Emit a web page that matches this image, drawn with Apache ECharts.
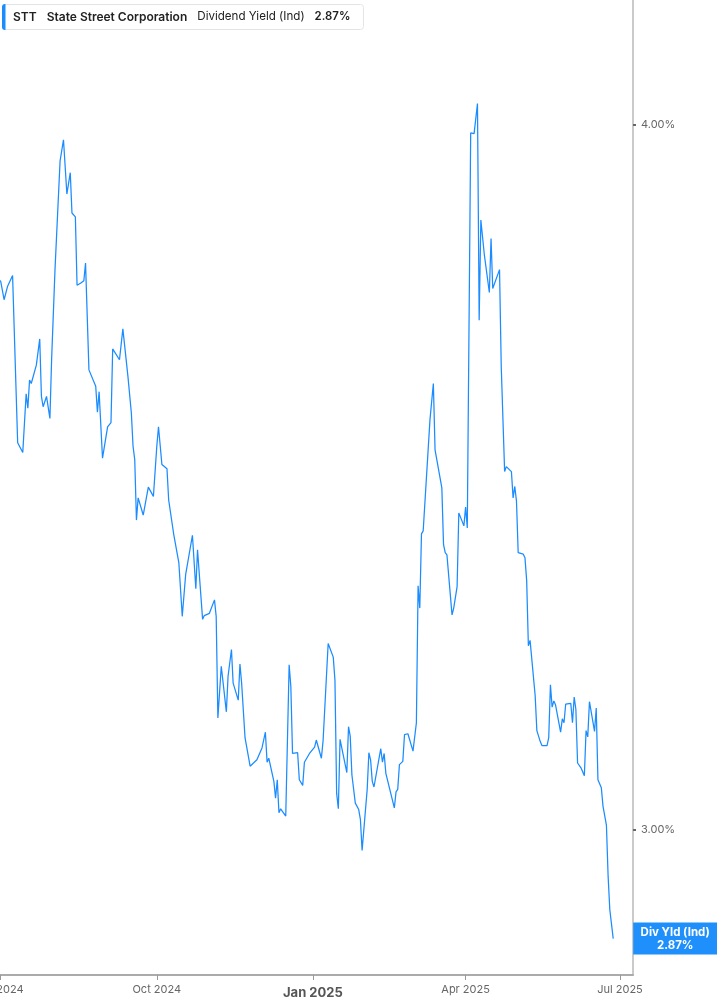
<!DOCTYPE html>
<html>
<head>
<meta charset="utf-8">
<script src="https://cdn.jsdelivr.net/npm/echarts@6/dist/echarts.min.js"></script>
<style>
  html, body { margin: 0; padding: 0; background: #fff; }
  #chart { width: 717px; height: 1005px; }
</style>
</head>
<body>
<div id="chart"></div>
<script>
// ---- data ----
const dates = [
  '2024-06-28','2024-07-01','2024-07-03','2024-07-05','2024-07-08','2024-07-11','2024-07-14','2024-07-16','2024-07-17','2024-07-18','2024-07-19','2024-07-22','2024-07-24','2024-07-25','2024-07-26','2024-07-28','2024-07-30','2024-07-31',
  '2024-08-02','2024-08-05','2024-08-06','2024-08-07','2024-08-09','2024-08-11','2024-08-12','2024-08-14','2024-08-15','2024-08-17','2024-08-19','2024-08-20','2024-08-22','2024-08-26','2024-08-27','2024-08-28','2024-08-30',
  '2024-09-02','2024-09-04','2024-09-05','2024-09-09','2024-09-11','2024-09-12','2024-09-14','2024-09-16','2024-09-17','2024-09-18','2024-09-19','2024-09-20','2024-09-23','2024-09-26','2024-09-29',
  '2024-10-01','2024-10-02','2024-10-04','2024-10-07','2024-10-08','2024-10-11','2024-10-14','2024-10-16','2024-10-18','2024-10-22','2024-10-24','2024-10-25','2024-10-28','2024-10-29',
  '2024-11-01','2024-11-04','2024-11-05','2024-11-06','2024-11-08','2024-11-11','2024-11-12','2024-11-13','2024-11-14','2024-11-15','2024-11-18','2024-11-19','2024-11-20','2024-11-22','2024-11-25','2024-11-26','2024-11-29',
  '2024-12-02','2024-12-04','2024-12-05','2024-12-06','2024-12-09','2024-12-10','2024-12-11','2024-12-12','2024-12-13','2024-12-16','2024-12-18','2024-12-19','2024-12-20','2024-12-23','2024-12-24','2024-12-26','2024-12-27','2024-12-30',
  '2025-01-02','2025-01-03','2025-01-06','2025-01-07','2025-01-08','2025-01-10','2025-01-13','2025-01-14','2025-01-15','2025-01-16','2025-01-17','2025-01-21','2025-01-22','2025-01-23','2025-01-24','2025-01-26','2025-01-28','2025-01-29','2025-01-30',
  '2025-02-02','2025-02-03','2025-02-04','2025-02-05','2025-02-06','2025-02-10','2025-02-11','2025-02-12','2025-02-13','2025-02-18','2025-02-19','2025-02-20','2025-02-21','2025-02-23','2025-02-24','2025-02-26',
  '2025-03-01','2025-03-03','2025-03-04','2025-03-05','2025-03-06','2025-03-07','2025-03-11','2025-03-12','2025-03-13','2025-03-14','2025-03-18','2025-03-19','2025-03-20','2025-03-21','2025-03-24','2025-03-25','2025-03-26','2025-03-27','2025-03-28','2025-03-31',
  '2025-04-01','2025-04-02','2025-04-04','2025-04-06','2025-04-07','2025-04-08','2025-04-09','2025-04-10','2025-04-12','2025-04-15','2025-04-16','2025-04-17','2025-04-21','2025-04-22','2025-04-24','2025-04-25','2025-04-28','2025-04-29','2025-04-30',
  '2025-05-01','2025-05-02','2025-05-05','2025-05-06','2025-05-07','2025-05-08','2025-05-09','2025-05-12','2025-05-13','2025-05-14','2025-05-15','2025-05-16','2025-05-19','2025-05-20','2025-05-21','2025-05-22','2025-05-23','2025-05-24','2025-05-27','2025-05-28','2025-05-29','2025-05-30',
  '2025-06-02','2025-06-03','2025-06-04','2025-06-05','2025-06-06','2025-06-08','2025-06-10','2025-06-11','2025-06-12','2025-06-13','2025-06-16','2025-06-17','2025-06-18','2025-06-20','2025-06-21','2025-06-23','2025-06-24','2025-06-25','2025-06-27'
];
const yields = [
  3.760,3.752,3.724,3.744,3.761,3.513,3.499,3.584,3.563,3.604,3.599,3.626,3.665,3.580,3.565,3.580,3.548,3.634,
  3.770,3.941,3.943,3.975,3.888,3.922,3.858,3.852,3.746,3.749,3.753,3.780,3.619,3.595,3.557,3.587,3.491,
  3.536,3.542,3.650,3.634,3.680,3.680,3.609,3.556,3.508,3.489,3.404,3.435,3.411,3.450,3.437,
  3.508,3.536,3.482,3.476,3.432,3.384,3.345,3.273,3.329,3.383,3.310,3.363,3.269,3.274,
  3.277,3.295,3.273,3.140,3.207,3.148,3.194,3.195,3.229,3.185,3.163,3.210,3.185,3.115,3.079,3.077,3.087,
  3.102,3.122,3.084,3.089,3.060,3.039,3.062,3.021,3.026,3.017,3.209,3.181,3.095,3.096,3.062,3.055,3.084,3.095,
  3.103,3.112,3.089,3.111,3.111,3.237,3.219,3.189,3.045,3.026,3.113,3.071,3.129,3.117,3.068,3.033,3.025,3.013,2.975,
  3.050,3.096,3.087,3.060,3.053,3.101,3.084,3.095,3.070,3.027,3.047,3.050,3.081,3.085,3.119,3.120,
  3.098,3.134,3.314,3.284,3.385,3.389,3.546,3.546,3.599,3.503,3.449,3.370,3.359,3.356,3.275,3.284,3.282,3.313,3.414,3.396,
  3.422,3.393,3.986,3.985,3.986,4.034,3.693,3.847,3.794,3.735,3.818,3.741,3.770,3.625,3.472,3.479,3.472,3.435,3.451,
  3.430,3.359,3.357,3.352,3.321,3.234,3.241,3.169,3.124,3.123,3.110,3.105,3.105,3.115,3.183,3.154,3.162,3.157,3.122,3.139,3.134,3.158,
  3.159,3.134,3.167,3.151,3.083,3.077,3.067,3.124,3.116,3.161,3.123,3.153,3.062,3.052,3.029,3.006,2.944,2.904,2.870
];
const xTickDates  = ['2024-07-01','2024-10-01','2025-01-01','2025-04-01','2025-07-01'];
const xTickLabels = ['Jul 2024','Oct 2024','Jan 2025','Apr 2025','Jul 2025'];
const yTickValues = [3, 4];
const ticker = 'STT';
const company = 'State Street Corporation';
const metric = 'Dividend Yield (Ind)';
const lastValueText = '2.87%';
const endLabelName = 'Div Yld (Ind)';

// ---- chart ----
const BLUE = '#1a8cff';
const FONT = 'Inter, "Noto Sans", sans-serif';
const toTime = s => +echarts.time.parse(s);
const chart = echarts.init(document.getElementById('chart'), null, { renderer: 'canvas' });

const seriesData = dates.map((d, i) => [toTime(d), yields[i]]);
const tickTimes = xTickDates.map(toTime);

chart.setOption({
  animation: false,
  textStyle: { fontFamily: FONT },
  title: {
    left: 2, top: 4,
    padding: [0, 13, 0, 0],
    backgroundColor: '#fff',
    borderColor: '#e4e4e4', borderWidth: 1, borderRadius: 3,
    text: '{bar|}{a|' + ticker + '}{b|' + company + '}{c|' + metric + '}{d|' + lastValueText + '}',
    textStyle: {
      rich: {
        bar: { width: 3.5, height: 26, backgroundColor: BLUE, borderRadius: [3, 0, 0, 3] },
        a: { fontFamily: FONT, fontWeight: 600, fontSize: 12, color: '#222', lineHeight: 26, padding: [0, 0, 0, 7.5] },
        b: { fontFamily: FONT, fontWeight: 600, fontSize: 12, color: '#222', lineHeight: 26, padding: [0, 0, 0, 10] },
        c: { fontFamily: FONT, fontWeight: 400, fontSize: 11.6, color: '#222', lineHeight: 26, padding: [0, 0, 0, 10] },
        d: { fontFamily: FONT, fontWeight: 600, fontSize: 11.4, color: '#222', lineHeight: 26, padding: [0, 0, 0, 10] }
      }
    }
  },
  grid: { left: 0, right: 84, top: 0, bottom: 30, containLabel: false, outerBoundsMode: 'none' },
  xAxis: {
    type: 'value',
    min: toTime('2024-06-30 14:00'),
    max: toTime('2025-07-08 16:00'),
    scale: true,
    splitLine: { show: false },
    axisLine: { show: true, lineStyle: { color: '#ababab', width: 2 } },
    axisTick: { show: true, customValues: tickTimes, length: 5, lineStyle: { color: '#999', width: 1 } },
    axisLabel: {
      customValues: tickTimes,
      color: '#666', fontSize: 11, margin: 9, fontFamily: FONT,
      hideOverlap: false,
      formatter: function (val) {
        const i = tickTimes.indexOf(+val);
        if (i < 0) return '';
        const s = xTickLabels[i];
        return s.indexOf('Jan') === 0 ? '{y|' + s + '}' : s;
      },
      rich: { y: { fontWeight: 'bold', fontSize: 13, color: '#555', fontFamily: FONT, padding: [3, 0, 0, 0] } }
    }
  },
  yAxis: {
    type: 'log',
    logBase: 10,
    position: 'right',
    min: 2.8277,
    max: 4.2081,
    splitLine: { show: false },
    axisLine: { show: true, lineStyle: { color: '#b8b8b8', width: 1.5 } },
    axisTick: { show: true, customValues: yTickValues, length: 3, inside: false, lineStyle: { color: '#666', width: 2 } },
    axisLabel: {
      customValues: yTickValues,
      color: '#666', fontSize: 11, margin: 8, fontFamily: FONT,
      formatter: v => Number(v).toFixed(2) + '%'
    }
  },
  series: [{
    type: 'line',
    data: seriesData,
    showSymbol: false,
    symbol: 'none',
    clip: true,
    lineStyle: { color: BLUE, width: 1.25 },
    itemStyle: { color: BLUE },
    endLabel: {
      show: true,
      formatter: endLabelName + '\n' + lastValueText,
      distance: 62,
      align: 'center',
      verticalAlign: 'middle',
      width: 84,
      padding: [3, 0, 3, 0],
      lineHeight: 13,
      backgroundColor: '#1e8ffb',
      color: '#fff',
      fontWeight: 'bold',
      fontSize: 11.5,
      fontFamily: FONT
    }
  }]
});
</script>
</body>
</html>
